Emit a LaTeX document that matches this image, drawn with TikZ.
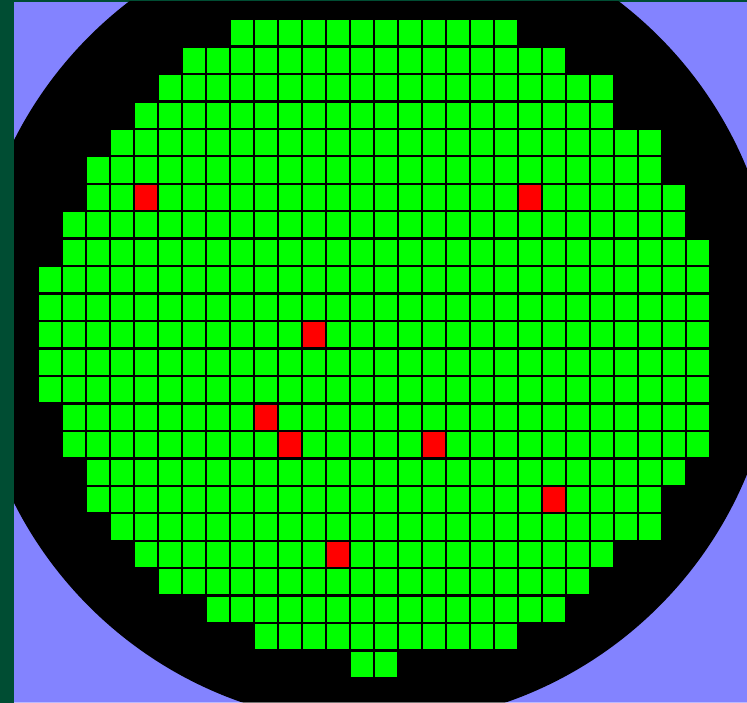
\documentclass[tikz,border=0pt]{standalone}
\definecolor{framegreen}{RGB}{0,77,51}
\definecolor{lavender}{RGB}{131,131,255}
\definecolor{diegreen}{RGB}{0,255,0}
\definecolor{diered}{RGB}{255,0,0}
\begin{document}
\begin{tikzpicture}[x=1pt,y=-1pt,
  diebox/.style={fill=diegreen, draw=black, line width=2.4pt},
  badbox/.style={fill=diered, draw=black, line width=2.4pt}]
\useasboundingbox (0,0) rectangle (747,703);
\fill[framegreen] (0,0) rectangle (747,703);
\fill[lavender] (14,2) rectangle (747,703);
\begin{scope}
  \clip (14,2) rectangle (747,703);
  \fill[black] (374,321.5) circle (403);
\end{scope}
\fill[white, opacity=0.45] (14,702) rectangle (747,703);
\def\rh{27.4583}
\foreach \r/\a/\b in {0/8/19, 1/6/21, 2/5/23, 3/4/23, 4/3/25, 5/2/25, 6/2/26, 7/1/26,
                      8/1/27, 9/0/27, 10/0/27, 11/0/27, 12/0/27, 13/0/27, 14/1/27, 15/1/27,
                      16/2/26, 17/2/25, 18/3/25, 19/4/23, 20/5/22, 21/7/21, 22/9/19, 23/13/14} {
  \foreach \c in {\a,...,\b} {
    \draw[diebox] ({38+24*\c},{19+\rh*\r}) rectangle ++(24,\rh);
  }
}
\foreach \r/\c in {6/4, 6/20, 11/11, 14/9, 15/10, 15/16, 17/21, 19/12} {
  \draw[badbox] ({38+24*\c},{19+\rh*\r}) rectangle ++(24,\rh);
}
\end{tikzpicture}
\end{document}
